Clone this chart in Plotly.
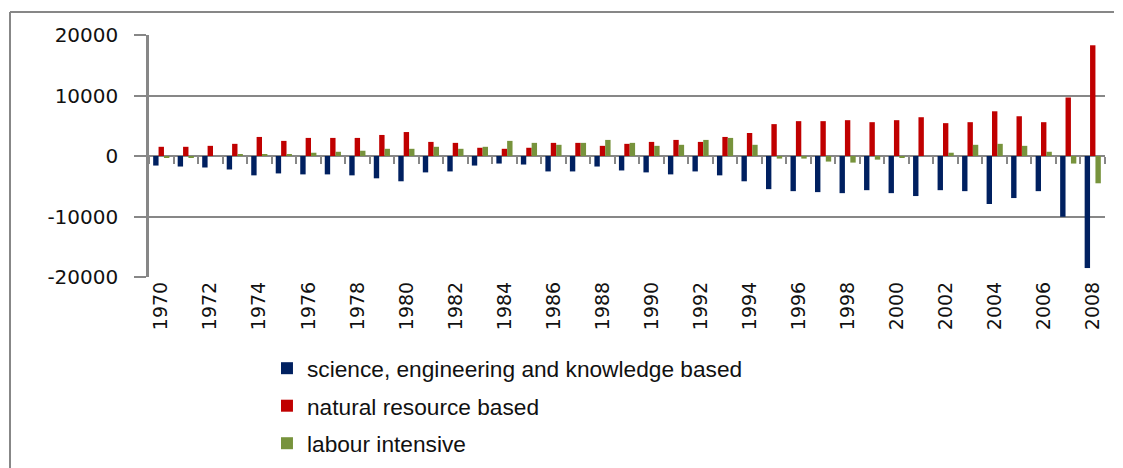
import plotly.graph_objects as go

years = list(range(1970, 2009))

science = [-1580, -1740, -1900, -2230, -3200, -2880, -3040, -3040, -3200, -3690,
           -4180, -2710, -2550, -1580, -1250, -1410, -2550, -2550, -1740, -2390,
           -2710, -3040, -2550, -3200, -4180, -5480, -5810, -5970, -6140, -5650,
           -6140, -6620, -5650, -5810, -7930, -6950, -5810, -10050, -18520]

natural = [1520, 1520, 1680, 2010, 3150, 2500, 2990, 2990, 2990, 3480,
           3960, 2330, 2170, 1360, 1190, 1360, 2170, 2170, 1680, 2010,
           2330, 2660, 2330, 3150, 3800, 5270, 5760, 5760, 5920, 5590,
           5920, 6410, 5430, 5590, 7390, 6570, 5590, 9670, 18300]

labour = [-200, -200, 0, 220, 220, 220, 540, 700, 870, 1190,
          1190, 1520, 1190, 1520, 2500, 2170, 1850, 2170, 2660, 2170,
          1680, 1850, 2660, 2990, 1850, -430, -430, -920, -1090, -600,
          -270, 0, 540, 1850, 2010, 1680, 700, -1250, -4510]

series_names = ["science, engineering and knowledge based",
                "natural resource based",
                "labour intensive"]
series_colors = ["#002060", "#C00000", "#77933C"]
year_ticks = list(range(1970, 2009, 2))
y_ticks = [-20000, -10000, 0, 10000, 20000]
y_ticktext = ["-20000", "-10000", "0", "10000", "20000"]
boundaries = [y - 0.5 for y in years] + [years[-1] + 0.5]

GRID = "#878787"
fig = go.Figure()
for name, vals, col in zip(series_names, [science, natural, labour], series_colors):
    fig.add_trace(go.Bar(x=years, y=vals, name=name, marker_color=col,
                         marker_line_width=0, legendgroup=name))

# helper invisible trace so the zero-line tick axis is drawn
fig.add_trace(go.Scatter(x=boundaries, y=[0] * len(boundaries), xaxis="x2",
                         mode="markers", marker=dict(opacity=0),
                         showlegend=False, hoverinfo="skip"))

fig.update_layout(
    width=1115, height=460,
    margin=dict(l=141, r=18, t=27, b=191, autoexpand=False),
    paper_bgcolor="white", plot_bgcolor="white",
    barmode="group", bargap=0.34, bargroupgap=0,
    font=dict(family="DejaVu Sans", color="#111111"),
    xaxis=dict(range=[1969.5, 2008.5], tickmode="array", tickvals=year_ticks,
               ticktext=[str(y) for y in year_ticks], tickangle=-90,
               ticks="", showgrid=False, zeroline=False, showline=False,
               automargin=False,
               tickfont=dict(size=19, family="DejaVu Sans", color="#111111")),
    xaxis2=dict(overlaying="x", matches="x", anchor="free", position=0.5,
                side="bottom", tickmode="array", tickvals=boundaries,
                ticks="outside", ticklen=7, tickwidth=2, tickcolor=GRID,
                showticklabels=False, showgrid=False, zeroline=False,
                showline=False, automargin=False),
    yaxis=dict(range=[-20000, 20000], tickmode="array", tickvals=y_ticks,
               ticktext=y_ticktext, automargin=False, ticklabelstandoff=12,
               ticks="outside", ticklen=12, tickcolor=GRID, tickwidth=1.5,
               showline=True, linecolor=GRID, linewidth=2.5,
               showgrid=True, gridcolor=GRID, gridwidth=1.5,
               zeroline=True, zerolinecolor=GRID, zerolinewidth=2,
               tickfont=dict(size=20, family="DejaVu Sans", color="#111111")),
    legend=dict(x=0.1234, y=-0.289, xanchor="left", yanchor="top",
                orientation="v", tracegroupgap=5,
                font=dict(size=22.7, family="Liberation Sans", color="#111111"),
                bgcolor="rgba(0,0,0,0)"),
    showlegend=True,
    shapes=[
        dict(type="line", xref="paper", yref="paper", x0=-0.1454, x1=1.0094,
             y0=1.095, y1=1.095, line=dict(color=GRID, width=2)),
        dict(type="line", xref="paper", yref="paper", x0=-0.1454, x1=-0.1454,
             y0=1.095, y1=-0.9, line=dict(color=GRID, width=2)),
    ],
)

fig.write_html("out.html")
